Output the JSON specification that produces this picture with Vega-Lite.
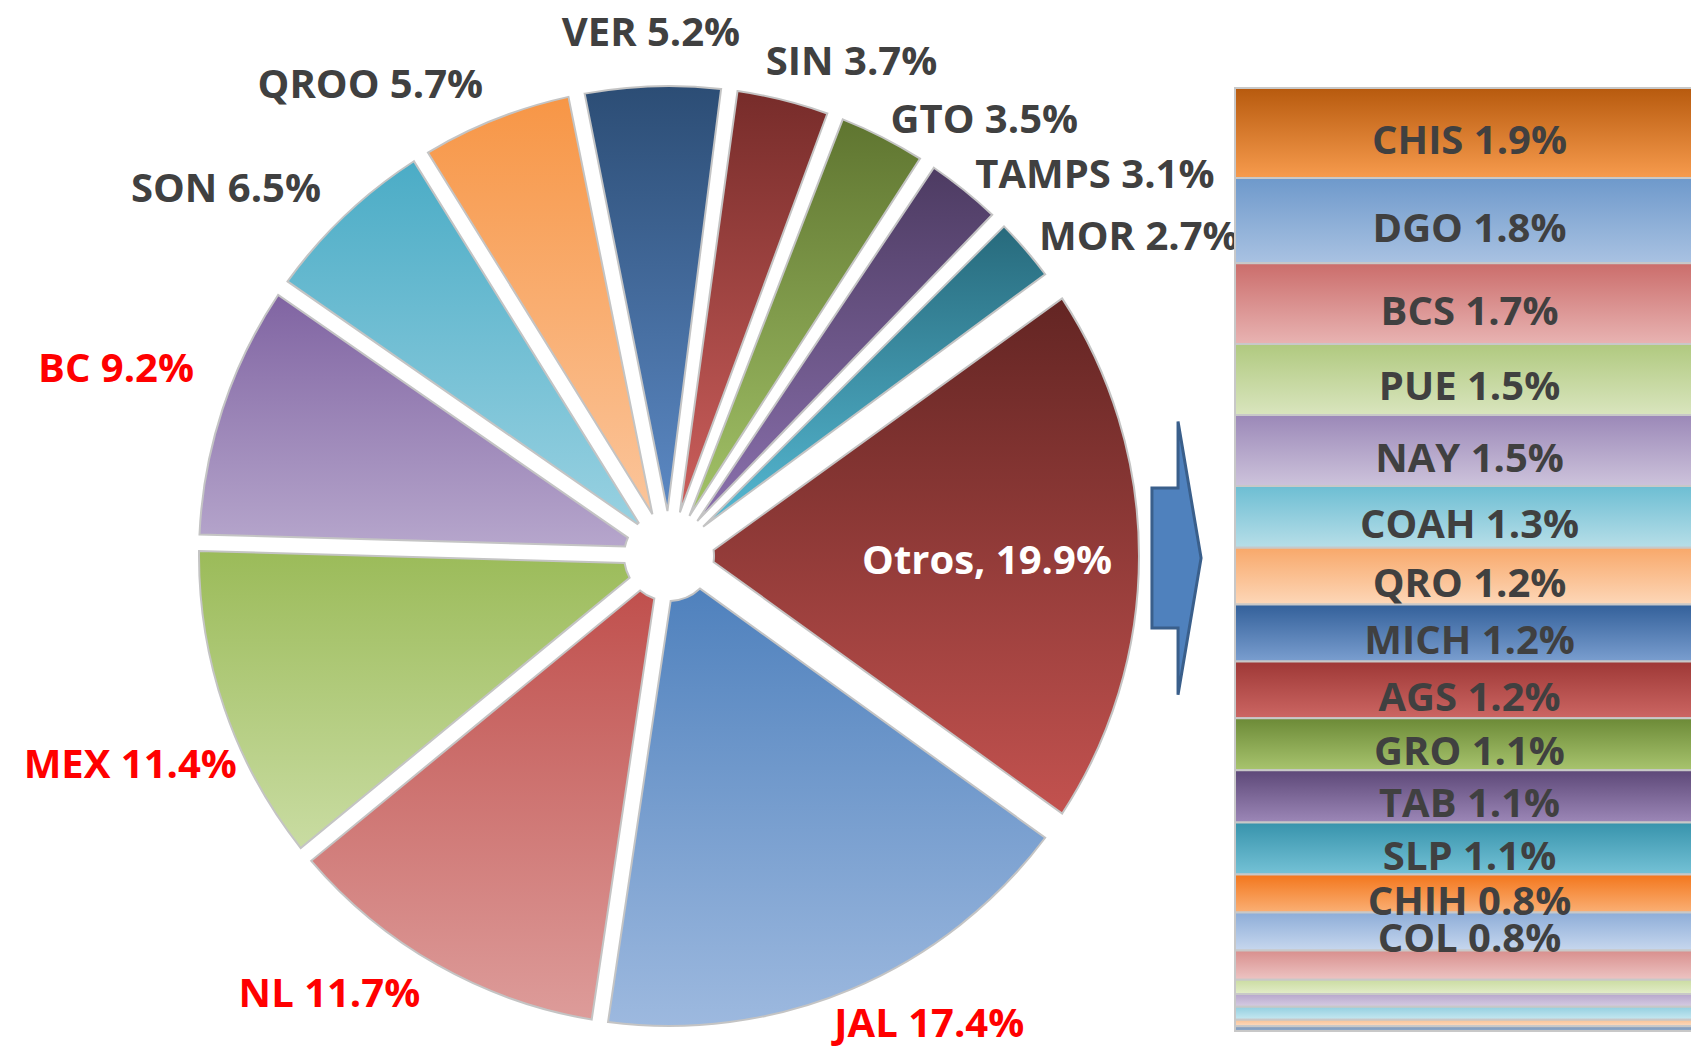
{
  "$schema": "https://vega.github.io/schema/vega-lite/v6.json",
  "width": 1338,
  "height": 1000,
  "autosize": {"type": "none"},
  "padding": {"left": 0, "top": 56, "right": 353, "bottom": 0},
  "background": "white",
  "config": {"view": {"stroke": null}, "text": {"font": "Open Sans", "fontWeight": "bold", "fontSize": 40}},
  "datasets": {
    "pie": [
      {"i": 1, "state": "JAL", "pct": 17.4},
      {"i": 2, "state": "NL", "pct": 11.7},
      {"i": 3, "state": "MEX", "pct": 11.4},
      {"i": 4, "state": "BC", "pct": 9.2},
      {"i": 5, "state": "SON", "pct": 6.5},
      {"i": 6, "state": "QROO", "pct": 5.7},
      {"i": 7, "state": "VER", "pct": 5.2},
      {"i": 8, "state": "SIN", "pct": 3.7},
      {"i": 9, "state": "GTO", "pct": 3.5},
      {"i": 10, "state": "TAMPS", "pct": 3.1},
      {"i": 11, "state": "MOR", "pct": 2.7},
      {"i": 12, "state": "Otros", "pct": 19.9}
    ],
    "bar": [
      {"i": 1, "state": "CHIS", "pct": 1.9},
      {"i": 2, "state": "DGO", "pct": 1.8},
      {"i": 3, "state": "BCS", "pct": 1.7},
      {"i": 4, "state": "PUE", "pct": 1.5},
      {"i": 5, "state": "NAY", "pct": 1.5},
      {"i": 6, "state": "COAH", "pct": 1.3},
      {"i": 7, "state": "QRO", "pct": 1.2},
      {"i": 8, "state": "MICH", "pct": 1.2},
      {"i": 9, "state": "AGS", "pct": 1.2},
      {"i": 10, "state": "GRO", "pct": 1.1},
      {"i": 11, "state": "TAB", "pct": 1.1},
      {"i": 12, "state": "SLP", "pct": 1.1},
      {"i": 13, "state": "CHIH", "pct": 0.8},
      {"i": 14, "state": "COL", "pct": 0.8},
      {"i": 15, "state": "s15", "pct": 0.62},
      {"i": 16, "state": "s16", "pct": 0.3},
      {"i": 17, "state": "s17", "pct": 0.27},
      {"i": 18, "state": "s18", "pct": 0.27},
      {"i": 19, "state": "s19", "pct": 0.14},
      {"i": 20, "state": "s20", "pct": 0.1}
    ]
  },
  "layer": [
    {
      "data": {"name": "pie"},
      "transform": [
        {"stack": "pct", "groupby": [], "sort": [{"field": "i", "order": "ascending"}], "as": ["t0", "t1"]},
        {"filter": "datum.state !== 'Otros'"}
      ],
      "mark": {"type": "arc", "outerRadius": 470, "innerRadius": 45, "padAngle": 0.035, "stroke": "#C4C4C4", "strokeWidth": 2},
      "encoding": {
        "theta": {"field": "t0", "type": "quantitative", "stack": null, "scale": {"domain": [0, 100], "range": [2.196, 8.479], "nice": false, "zero": false}},
        "theta2": {"field": "t1"},
        "fill": {
          "condition": [
            {"test": "datum.state==='JAL'", "value": {"gradient": "linear", "x1": 0, "y1": 0, "x2": 0, "y2": 1, "stops": [{"offset": 0, "color": "#4F81BD"}, {"offset": 1, "color": "#9DB9DF"}]}},
            {"test": "datum.state==='NL'", "value": {"gradient": "linear", "x1": 0, "y1": 0, "x2": 0, "y2": 1, "stops": [{"offset": 0, "color": "#C0504D"}, {"offset": 1, "color": "#DD9C9A"}]}},
            {"test": "datum.state==='MEX'", "value": {"gradient": "linear", "x1": 0, "y1": 0, "x2": 0, "y2": 1, "stops": [{"offset": 0, "color": "#9BBB59"}, {"offset": 1, "color": "#C9DCA2"}]}},
            {"test": "datum.state==='BC'", "value": {"gradient": "linear", "x1": 0, "y1": 0, "x2": 0, "y2": 1, "stops": [{"offset": 0, "color": "#8064A2"}, {"offset": 1, "color": "#B6A6CC"}]}},
            {"test": "datum.state==='SON'", "value": {"gradient": "linear", "x1": 0, "y1": 0, "x2": 0, "y2": 1, "stops": [{"offset": 0, "color": "#4BACC6"}, {"offset": 1, "color": "#98D1E1"}]}},
            {"test": "datum.state==='QROO'", "value": {"gradient": "linear", "x1": 0, "y1": 0, "x2": 0, "y2": 1, "stops": [{"offset": 0, "color": "#F79646"}, {"offset": 1, "color": "#FBC59B"}]}},
            {"test": "datum.state==='VER'", "value": {"gradient": "linear", "x1": 0, "y1": 0, "x2": 0, "y2": 1, "stops": [{"offset": 0, "color": "#2C4D75"}, {"offset": 1, "color": "#5C89C4"}]}},
            {"test": "datum.state==='SIN'", "value": {"gradient": "linear", "x1": 0, "y1": 0, "x2": 0, "y2": 1, "stops": [{"offset": 0, "color": "#772C2A"}, {"offset": 1, "color": "#CC5F5C"}]}},
            {"test": "datum.state==='GTO'", "value": {"gradient": "linear", "x1": 0, "y1": 0, "x2": 0, "y2": 1, "stops": [{"offset": 0, "color": "#5F7530"}, {"offset": 1, "color": "#A3C368"}]}},
            {"test": "datum.state==='TAMPS'", "value": {"gradient": "linear", "x1": 0, "y1": 0, "x2": 0, "y2": 1, "stops": [{"offset": 0, "color": "#4D3B62"}, {"offset": 1, "color": "#8B71AE"}]}},
            {"test": "datum.state==='MOR'", "value": {"gradient": "linear", "x1": 0, "y1": 0, "x2": 0, "y2": 1, "stops": [{"offset": 0, "color": "#276A7C"}, {"offset": 1, "color": "#56B9D3"}]}}
          ],
          "value": "#999999"
        }
      }
    },
    {
      "data": {"name": "pie"},
      "transform": [
        {"stack": "pct", "groupby": [], "sort": [{"field": "i", "order": "ascending"}], "as": ["t0", "t1"]},
        {"filter": "datum.state === 'Otros'"}
      ],
      "mark": {"type": "arc", "outerRadius": 470, "innerRadius": 45, "padAngle": 0.09, "stroke": "#C4C4C4", "strokeWidth": 2,
        "fill": {"gradient": "linear", "x1": 0, "y1": 0, "x2": 0, "y2": 1, "stops": [{"offset": 0, "color": "#632523"}, {"offset": 1, "color": "#C3524F"}]}},
      "encoding": {
        "theta": {"field": "t0", "type": "quantitative", "stack": null, "scale": {"domain": [0, 100], "range": [2.196, 8.479], "nice": false, "zero": false}},
        "theta2": {"field": "t1"}
      }
    },
    {
      "data": {"name": "pie"},
      "transform": [
        {"stack": "pct", "groupby": [], "sort": [{"field": "i", "order": "ascending"}], "as": ["t0", "t1"]},
        {"calculate": "(datum.t0 + datum.t1) / 2", "as": "tmid"},
        {"calculate": "datum.state + ' ' + format(datum.pct, '.1f') + '%'", "as": "label"},
        {"filter": "indexof(['GTO','TAMPS','MOR'], datum.state) >= 0"}
      ],
      "mark": {"type": "text", "radius": 488, "align": "left", "baseline": "middle", "color": "#404040"},
      "encoding": {
        "theta": {"field": "tmid", "type": "quantitative", "stack": null, "scale": {"domain": [0, 100], "range": [2.196, 8.479], "nice": false, "zero": false}},
        "text": {"field": "label"}
      }
    },
    {
      "data": {"name": "pie"},
      "transform": [
        {"stack": "pct", "groupby": [], "sort": [{"field": "i", "order": "ascending"}], "as": ["t0", "t1"]},
        {"calculate": "(datum.t0 + datum.t1) / 2", "as": "tmid"},
        {"calculate": "datum.state + ' ' + format(datum.pct, '.1f') + '%'", "as": "label"},
        {"filter": "datum.state === 'SIN'"}
      ],
      "mark": {"type": "text", "radius": 490, "align": "left", "baseline": "middle", "dx": -22, "dy": -18, "color": "#404040"},
      "encoding": {
        "theta": {"field": "tmid", "type": "quantitative", "stack": null, "scale": {"domain": [0, 100], "range": [2.196, 8.479], "nice": false, "zero": false}},
        "text": {"field": "label"}
      }
    },
    {
      "data": {"name": "pie"},
      "transform": [
        {"stack": "pct", "groupby": [], "sort": [{"field": "i", "order": "ascending"}], "as": ["t0", "t1"]},
        {"calculate": "(datum.t0 + datum.t1) / 2", "as": "tmid"},
        {"calculate": "datum.state + ' ' + format(datum.pct, '.1f') + '%'", "as": "label"},
        {"filter": "datum.state === 'JAL'"}
      ],
      "mark": {"type": "text", "radius": 490, "align": "left", "baseline": "middle", "dx": -25, "dy": 17, "color": "#FF0000"},
      "encoding": {
        "theta": {"field": "tmid", "type": "quantitative", "stack": null, "scale": {"domain": [0, 100], "range": [2.196, 8.479], "nice": false, "zero": false}},
        "text": {"field": "label"}
      }
    },
    {
      "data": {"name": "pie"},
      "transform": [
        {"stack": "pct", "groupby": [], "sort": [{"field": "i", "order": "ascending"}], "as": ["t0", "t1"]},
        {"calculate": "(datum.t0 + datum.t1) / 2", "as": "tmid"},
        {"calculate": "datum.state + ' ' + format(datum.pct, '.1f') + '%'", "as": "label"},
        {"filter": "indexof(['NL','SON','QROO'], datum.state) >= 0"}
      ],
      "mark": {"type": "text", "radius": 505, "align": "right", "baseline": "middle"},
      "encoding": {
        "theta": {"field": "tmid", "type": "quantitative", "stack": null, "scale": {"domain": [0, 100], "range": [2.196, 8.479], "nice": false, "zero": false}},
        "text": {"field": "label"},
        "color": {"condition": {"test": "datum.state === 'NL'", "value": "#FF0000"}, "value": "#404040"}
      }
    },
    {
      "data": {"name": "pie"},
      "transform": [
        {"stack": "pct", "groupby": [], "sort": [{"field": "i", "order": "ascending"}], "as": ["t0", "t1"]},
        {"calculate": "(datum.t0 + datum.t1) / 2", "as": "tmid"},
        {"calculate": "datum.state + ' ' + format(datum.pct, '.1f') + '%'", "as": "label"},
        {"filter": "datum.state === 'MEX'"}
      ],
      "mark": {"type": "text", "radius": 480, "align": "right", "baseline": "middle", "dx": 22, "dy": 55, "color": "#FF0000"},
      "encoding": {
        "theta": {"field": "tmid", "type": "quantitative", "stack": null, "scale": {"domain": [0, 100], "range": [2.196, 8.479], "nice": false, "zero": false}},
        "text": {"field": "label"}
      }
    },
    {
      "data": {"name": "pie"},
      "transform": [
        {"stack": "pct", "groupby": [], "sort": [{"field": "i", "order": "ascending"}], "as": ["t0", "t1"]},
        {"calculate": "(datum.t0 + datum.t1) / 2", "as": "tmid"},
        {"calculate": "datum.state + ' ' + format(datum.pct, '.1f') + '%'", "as": "label"},
        {"filter": "datum.state === 'BC'"}
      ],
      "mark": {"type": "text", "radius": 500, "align": "right", "baseline": "middle", "dy": -30, "color": "#FF0000"},
      "encoding": {
        "theta": {"field": "tmid", "type": "quantitative", "stack": null, "scale": {"domain": [0, 100], "range": [2.196, 8.479], "nice": false, "zero": false}},
        "text": {"field": "label"}
      }
    },
    {
      "data": {"name": "pie"},
      "transform": [
        {"stack": "pct", "groupby": [], "sort": [{"field": "i", "order": "ascending"}], "as": ["t0", "t1"]},
        {"calculate": "(datum.t0 + datum.t1) / 2", "as": "tmid"},
        {"calculate": "datum.state + ' ' + format(datum.pct, '.1f') + '%'", "as": "label"},
        {"filter": "datum.state === 'VER'"}
      ],
      "mark": {"type": "text", "radius": 522, "align": "center", "baseline": "middle", "color": "#404040"},
      "encoding": {
        "theta": {"field": "tmid", "type": "quantitative", "stack": null, "scale": {"domain": [0, 100], "range": [2.196, 8.479], "nice": false, "zero": false}},
        "text": {"field": "label"}
      }
    },
    {
      "data": {"name": "pie"},
      "transform": [
        {"stack": "pct", "groupby": [], "sort": [{"field": "i", "order": "ascending"}], "as": ["t0", "t1"]},
        {"calculate": "(datum.t0 + datum.t1) / 2", "as": "tmid"},
        {"calculate": "datum.state + ', ' + format(datum.pct, '.1f') + '%'", "as": "label"},
        {"filter": "datum.state === 'Otros'"}
      ],
      "mark": {"type": "text", "radius": 318, "align": "center", "baseline": "middle", "color": "#FFFFFF", "dy": 6},
      "encoding": {
        "theta": {"field": "tmid", "type": "quantitative", "stack": null, "scale": {"domain": [0, 100], "range": [2.196, 8.479], "nice": false, "zero": false}},
        "text": {"field": "label"}
      }
    },
    {
      "data": {"name": "bar"},
      "transform": [
        {"stack": "pct", "groupby": [], "sort": [{"field": "i", "order": "ascending"}], "as": ["y0", "y1"]}
      ],
      "mark": {"type": "rect", "stroke": "#C8C8C8", "strokeWidth": 2},
      "encoding": {
        "x": {"datum": 0, "type": "quantitative", "axis": null, "scale": {"domain": [0, 1], "range": [1235, 1704], "nice": false, "zero": false}},
        "x2": {"datum": 1},
        "y": {"field": "y0", "type": "quantitative", "axis": null, "scale": {"domain": [0, 19.9], "range": [32, 975], "nice": false, "zero": false}},
        "y2": {"field": "y1"},
        "fill": {
          "condition": [
            {"test": "datum.state==='CHIS'", "value": {"gradient": "linear", "x1": 0, "y1": 0, "x2": 0, "y2": 1, "stops": [{"offset": 0, "color": "#B75A0E"}, {"offset": 1, "color": "#F79B4D"}]}},
            {"test": "datum.state==='DGO'", "value": {"gradient": "linear", "x1": 0, "y1": 0, "x2": 0, "y2": 1, "stops": [{"offset": 0, "color": "#6E99CB"}, {"offset": 1, "color": "#A9C2E2"}]}},
            {"test": "datum.state==='BCS'", "value": {"gradient": "linear", "x1": 0, "y1": 0, "x2": 0, "y2": 1, "stops": [{"offset": 0, "color": "#CB6D6B"}, {"offset": 1, "color": "#E8B3B2"}]}},
            {"test": "datum.state==='PUE'", "value": {"gradient": "linear", "x1": 0, "y1": 0, "x2": 0, "y2": 1, "stops": [{"offset": 0, "color": "#B0C97F"}, {"offset": 1, "color": "#D9E5BE"}]}},
            {"test": "datum.state==='NAY'", "value": {"gradient": "linear", "x1": 0, "y1": 0, "x2": 0, "y2": 1, "stops": [{"offset": 0, "color": "#9B88B8"}, {"offset": 1, "color": "#CDC3DB"}]}},
            {"test": "datum.state==='COAH'", "value": {"gradient": "linear", "x1": 0, "y1": 0, "x2": 0, "y2": 1, "stops": [{"offset": 0, "color": "#6DBED3"}, {"offset": 1, "color": "#B7DEE8"}]}},
            {"test": "datum.state==='QRO'", "value": {"gradient": "linear", "x1": 0, "y1": 0, "x2": 0, "y2": 1, "stops": [{"offset": 0, "color": "#F8A86A"}, {"offset": 1, "color": "#FDD7B8"}]}},
            {"test": "datum.state==='MICH'", "value": {"gradient": "linear", "x1": 0, "y1": 0, "x2": 0, "y2": 1, "stops": [{"offset": 0, "color": "#33609A"}, {"offset": 1, "color": "#7A9ECF"}]}},
            {"test": "datum.state==='AGS'", "value": {"gradient": "linear", "x1": 0, "y1": 0, "x2": 0, "y2": 1, "stops": [{"offset": 0, "color": "#9E3836"}, {"offset": 1, "color": "#CC6663"}]}},
            {"test": "datum.state==='GRO'", "value": {"gradient": "linear", "x1": 0, "y1": 0, "x2": 0, "y2": 1, "stops": [{"offset": 0, "color": "#6C8A37"}, {"offset": 1, "color": "#A8C46E"}]}},
            {"test": "datum.state==='TAB'", "value": {"gradient": "linear", "x1": 0, "y1": 0, "x2": 0, "y2": 1, "stops": [{"offset": 0, "color": "#5D4878"}, {"offset": 1, "color": "#9C87B7"}]}},
            {"test": "datum.state==='SLP'", "value": {"gradient": "linear", "x1": 0, "y1": 0, "x2": 0, "y2": 1, "stops": [{"offset": 0, "color": "#3793AC"}, {"offset": 1, "color": "#75C2D6"}]}},
            {"test": "datum.state==='CHIH'", "value": {"gradient": "linear", "x1": 0, "y1": 0, "x2": 0, "y2": 1, "stops": [{"offset": 0, "color": "#F3761C"}, {"offset": 1, "color": "#FAB075"}]}},
            {"test": "datum.state==='COL'", "value": {"gradient": "linear", "x1": 0, "y1": 0, "x2": 0, "y2": 1, "stops": [{"offset": 0, "color": "#8DADD8"}, {"offset": 1, "color": "#C7D7EE"}]}},
            {"test": "datum.state==='s15'", "value": {"gradient": "linear", "x1": 0, "y1": 0, "x2": 0, "y2": 1, "stops": [{"offset": 0, "color": "#D88F8D"}, {"offset": 1, "color": "#EDC4C3"}]}},
            {"test": "datum.state==='s16'", "value": {"gradient": "linear", "x1": 0, "y1": 0, "x2": 0, "y2": 1, "stops": [{"offset": 0, "color": "#CBDCA2"}, {"offset": 1, "color": "#E3EDC9"}]}},
            {"test": "datum.state==='s17'", "value": {"gradient": "linear", "x1": 0, "y1": 0, "x2": 0, "y2": 1, "stops": [{"offset": 0, "color": "#B7A7CC"}, {"offset": 1, "color": "#D6CCE3"}]}},
            {"test": "datum.state==='s18'", "value": {"gradient": "linear", "x1": 0, "y1": 0, "x2": 0, "y2": 1, "stops": [{"offset": 0, "color": "#93CFE0"}, {"offset": 1, "color": "#C7E8F1"}]}},
            {"test": "datum.state==='s19'", "value": {"gradient": "linear", "x1": 0, "y1": 0, "x2": 0, "y2": 1, "stops": [{"offset": 0, "color": "#F9C294"}, {"offset": 1, "color": "#FCDBC1"}]}}
          ],
          "value": {"gradient": "linear", "x1": 0, "y1": 0, "x2": 0, "y2": 1, "stops": [{"offset": 0, "color": "#7F99BA"}, {"offset": 1, "color": "#8FA9C9"}]}
        }
      }
    },
    {
      "data": {"name": "bar"},
      "transform": [
        {"stack": "pct", "groupby": [], "sort": [{"field": "i", "order": "ascending"}], "as": ["y0", "y1"]},
        {"calculate": "(datum.y0 + datum.y1) / 2", "as": "ymid"},
        {"calculate": "datum.state + ' ' + format(datum.pct, '.1f') + '%'", "as": "label"},
        {"filter": "datum.i <= 14"}
      ],
      "mark": {"type": "text", "align": "center", "baseline": "middle", "color": "#404040", "dy": 9},
      "encoding": {
        "x": {"datum": 0.5, "type": "quantitative", "axis": null, "scale": {"domain": [0, 1], "range": [1235, 1704], "nice": false, "zero": false}},
        "y": {"field": "ymid", "type": "quantitative", "axis": null, "scale": {"domain": [0, 19.9], "range": [32, 975], "nice": false, "zero": false}},
        "text": {"field": "label"}
      }
    },
    {
      "data": {"values": [{"item": "arrow"}]},
      "mark": {"type": "point", "shape": "M-0.178,-0.507L0.011,-0.507L0.011,-0.99L0.178,0L0.011,0.99L0.011,0.507L-0.178,0.507Z", "size": 76176, "filled": true, "fill": "#4F81BD", "stroke": "#3A5F8B", "strokeWidth": 3, "opacity": 1},
      "encoding": {
        "x": {"datum": -0.1247, "type": "quantitative", "axis": null, "scale": {"domain": [0, 1], "range": [1235, 1704], "nice": false, "zero": false}},
        "y": {"datum": 9.92, "type": "quantitative", "axis": null, "scale": {"domain": [0, 19.9], "range": [32, 975], "nice": false, "zero": false}}
      }
    }
  ]
}
